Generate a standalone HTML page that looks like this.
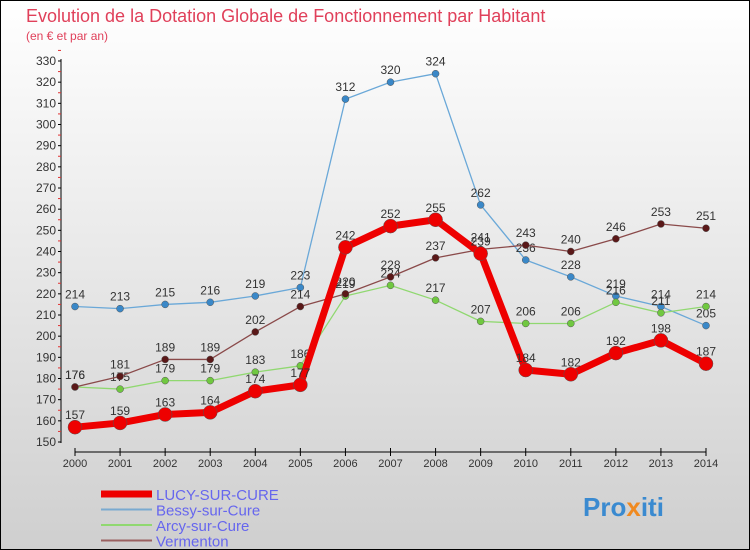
<!DOCTYPE html>
<html><head><meta charset="utf-8"><style>
body{margin:0;}
#c{width:748px;height:548px;border:1px solid #000;background:linear-gradient(#ffffff,#cfcfcf);position:relative;overflow:hidden;font-family:"Liberation Sans",sans-serif;}
</style></head><body>
<div id="c">
<svg id="s" width="748" height="548" xmlns="http://www.w3.org/2000/svg" style="position:absolute;left:0;top:0">
<text x="25" y="21" font-size="18" fill="#e0405a">Evolution de la Dotation Globale de Fonctionnement par Habitant</text>
<text x="25" y="39" font-size="12" fill="#e0405a">(en € et par an)</text>
<g id="axes"></g><g id="series"></g><g id="legend"></g>
<text x="582" y="515" font-size="26" font-weight="bold" fill="#3a8ad0">Pro<tspan fill="#f08a20">x</tspan>iti</text>
</svg>
</div>
<script>
const years=[2000,2001,2002,2003,2004,2005,2006,2007,2008,2009,2010,2011,2012,2013,2014];
const lucy=[157,159,163,164,174,177,242,252,255,239,184,182,192,198,187];
const bessy=[214,213,215,216,219,223,312,320,324,262,236,228,219,214,205];
const arcy=[176,175,179,179,183,186,219,224,217,207,206,206,216,211,214];
const verm=[176,181,189,189,202,214,220,228,237,241,243,240,246,253,251];
const yTicks=[150,160,170,180,190,200,210,220,230,240,250,260,270,280,290,300,310,320,330];
const NS="http://www.w3.org/2000/svg";
const X=i=>74+i*(631/14);
const Y=v=>441-(v-150)*(381/180);
function mk(t,a,p){const e=document.createElementNS(NS,t);for(const k in a)e.setAttribute(k,a[k]);p.appendChild(e);return e;}
const ax=document.getElementById('axes');
let e=mk('line',{x1:60,y1:58,x2:60,y2:442,stroke:'#000'},ax);

yTicks.forEach(v=>{
 mk('line',{x1:57,x2:60,y1:Y(v),y2:Y(v),stroke:'#000'},ax);
 mk('line',{x1:57,x2:60,y1:Y(v+5),y2:Y(v+5),stroke:'#e03030'},ax);
 const t=mk('text',{x:55,y:Y(v)+4,'font-size':12,'text-anchor':'end',fill:'#333'},ax);t.textContent=v;
 
});
e=mk('line',{x1:X(0),y1:451,x2:X(14),y2:451,stroke:'#000'},ax);

years.forEach((y,i)=>{
 mk('line',{x1:X(i),x2:X(i),y1:447,y2:455,stroke:'#000'},ax);
 const t=mk('text',{x:X(i),y:466,'font-size':11,'text-anchor':'middle',fill:'#333'},ax);t.textContent=y;
 
});
const sg=document.getElementById('series');
function draw(d,col,w,r,name,dot){
 const g=mk('g',{},sg);
 
 mk('polyline',{points:d.map((v,i)=>X(i)+','+Y(v)).join(' '),fill:'none',stroke:col,'stroke-width':w,'stroke-linejoin':'round'},g);
 d.forEach((v,i)=>{
  const c=mk('circle',{cx:X(i),cy:Y(v),r:r,fill:dot,stroke:'#555','stroke-width':0.5},g);
  
  const t=mk('text',{x:X(i),y:Y(v)-8,'font-size':12,'text-anchor':'middle',fill:'#333'},g);t.textContent=v;
  
 });
}
draw(bessy,'#6aa8d8',1.3,3.5,'bessy','#3a88c8');
draw(arcy,'#90d870',1.3,3.5,'arcy','#70c840');
draw(verm,'#8a4a4a',1.3,3.5,'vermenton','#5a1818');
draw(lucy,'#ee0000',7,7,'lucy','#ee0000');
const lg=document.getElementById('legend');
const items=[['LUCY-SUR-CURE','#ee0000',7],['Bessy-sur-Cure','#7aaad0',2],['Arcy-sur-Cure','#90d870',2],['Vermenton','#9a6060',2]];
items.forEach((it,i)=>{
 const y=493+i*15.5;
 const g=mk('g',{},lg);
 
 mk('line',{x1:100,x2:151,y1:y,y2:y,stroke:it[1],'stroke-width':it[2]},g);
 const t=mk('text',{x:155,y:y+6,'font-size':15,fill:'#6666ee'},g);t.textContent=it[0];
});
</script>
</body></html>
